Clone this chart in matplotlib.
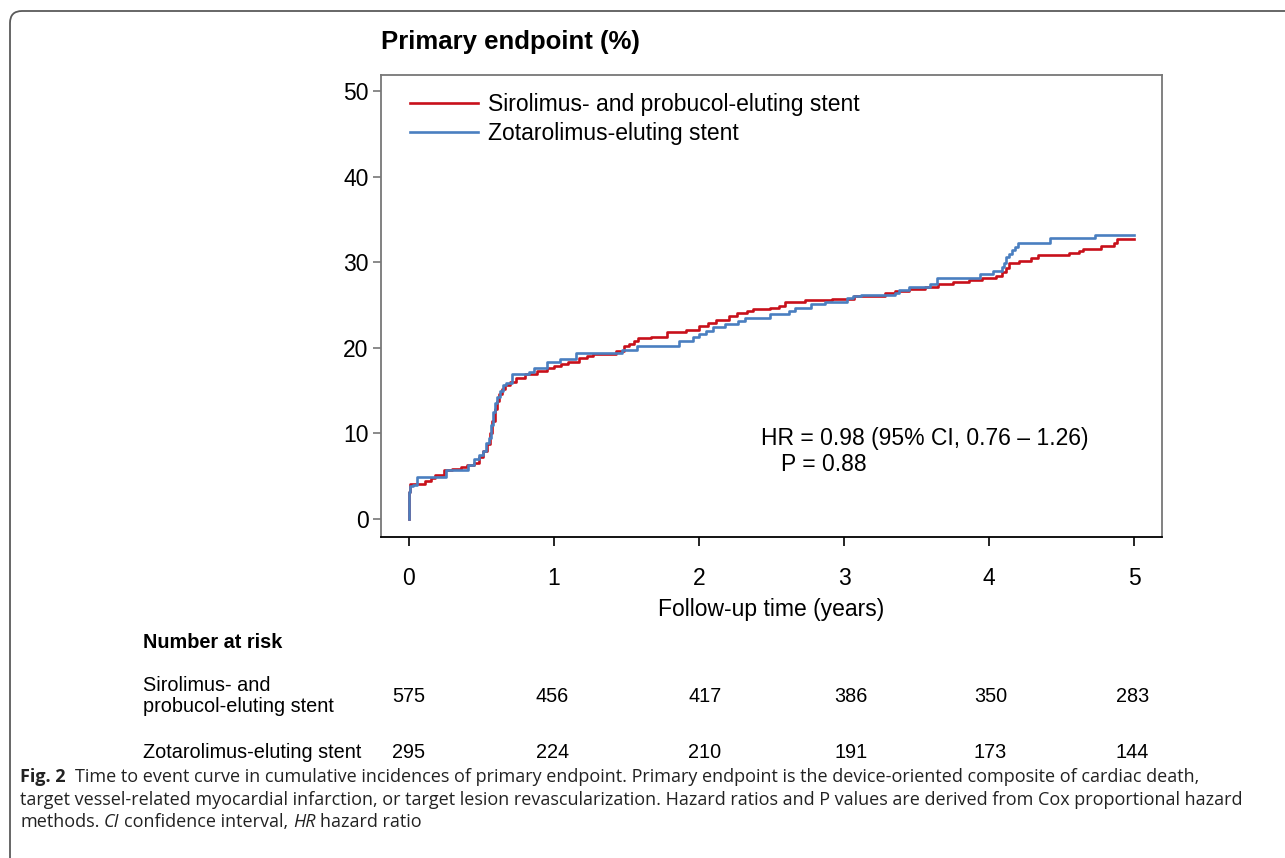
import matplotlib
matplotlib.use('Agg')
import matplotlib.pyplot as plt
from matplotlib.patches import FancyBboxPatch
from matplotlib.transforms import IdentityTransform, blended_transform_factory

plt.rcParams['font.family'] = ['Liberation Sans', 'DejaVu Sans']

W, H = 1285, 858

# cumulative incidence of the primary endpoint (%), step points
t_spes = [0, 0.0, 0.01, 0.11, 0.15, 0.18, 0.24, 0.30, 0.36, 0.40, 0.45, 0.48, 0.51, 0.54,
          0.56, 0.575, 0.59, 0.605, 0.62, 0.64, 0.66, 0.70, 0.74, 0.80, 0.88, 0.95, 1.00,
          1.05, 1.10, 1.17, 1.23, 1.27, 1.43, 1.48, 1.52, 1.55, 1.58, 1.67, 1.78, 1.91,
          2.00, 2.06, 2.12, 2.21, 2.26, 2.33, 2.37, 2.49, 2.55, 2.59, 2.66, 2.73, 2.92,
          3.07, 3.28, 3.35, 3.45, 3.56, 3.65, 3.75, 3.86, 3.95, 4.05, 4.09, 4.12, 4.14,
          4.21, 4.29, 4.34, 4.55, 4.62, 4.65, 4.77, 4.86, 4.88, 5.00]
y_spes = [0, 3.1, 4.1, 4.4, 4.8, 5.1, 5.7, 5.9, 6.1, 6.3, 6.6, 7.2, 7.9, 8.8,
          10.0, 11.5, 12.8, 13.8, 14.6, 15.2, 15.6, 16.0, 16.5, 16.9, 17.3, 17.7, 17.9,
          18.1, 18.4, 18.8, 19.0, 19.3, 19.6, 20.2, 20.5, 20.8, 21.1, 21.3, 21.8, 22.1,
          22.5, 22.9, 23.2, 23.7, 24.1, 24.3, 24.5, 24.6, 24.9, 25.3, 25.4, 25.6, 25.7,
          26.1, 26.4, 26.6, 26.9, 27.1, 27.4, 27.7, 27.9, 28.2, 28.4, 28.8, 29.3, 29.9,
          30.2, 30.5, 30.9, 31.1, 31.3, 31.6, 31.9, 32.2, 32.7, 32.7]

t_zes = [0, 0.0, 0.01, 0.03, 0.053, 0.255, 0.41, 0.45, 0.48, 0.51, 0.53, 0.55, 0.565,
         0.58, 0.595, 0.61, 0.625, 0.645, 0.67, 0.71, 0.83, 0.86, 0.95, 1.04, 1.15, 1.47,
         1.57, 1.86, 1.96, 2.00, 2.05, 2.10, 2.18, 2.27, 2.32, 2.49, 2.62, 2.66, 2.77,
         2.87, 3.02, 3.06, 3.12, 3.35, 3.38, 3.45, 3.59, 3.64, 3.94, 4.03, 4.09, 4.10,
         4.12, 4.14, 4.16, 4.18, 4.20, 4.42, 4.73, 5.00]
y_zes = [0, 3.1, 3.9, 4.0, 4.9, 5.7, 6.3, 7.0, 7.5, 8.0, 8.9, 9.5, 11.0,
         12.5, 13.5, 14.3, 15.0, 15.6, 15.9, 16.9, 17.2, 17.6, 18.3, 18.7, 19.4, 19.7,
         20.2, 20.8, 21.3, 21.6, 22.0, 22.4, 22.8, 23.1, 23.5, 23.9, 24.3, 24.6, 25.1,
         25.4, 25.8, 26.1, 26.2, 26.4, 26.8, 27.1, 27.5, 28.2, 28.6, 29.0, 29.4, 29.9,
         30.6, 31.0, 31.4, 31.8, 32.3, 32.8, 33.2, 33.2]

labels = ['Sirolimus- and probucol-eluting stent', 'Zotarolimus-eluting stent']
risk_labels = ['Sirolimus- and\nprobucol-eluting stent', 'Zotarolimus-eluting stent']
risk_spes = [575, 456, 417, 386, 350, 283]
risk_zes = [295, 224, 210, 191, 173, 144]
risk_x = [0, 0.99, 2.04, 3.05, 4.01, 4.99]

hr_text = 'HR = 0.98 (95% CI, 0.76 \u2013 1.26)'
p_text = 'P = 0.88'

cap1 = 'Time to event curve in cumulative incidences of primary endpoint. Primary endpoint is the device-oriented composite of cardiac death,'
cap2 = 'target vessel-related myocardial infarction, or target lesion revascularization. Hazard ratios and P values are derived from Cox proportional hazard'

RED = '#c8101a'
BLUE = '#4a7fc0'


def fx(x):
    return x / W


def fy(y):
    return 1 - y / H


fig = plt.figure(figsize=(W / 100, H / 100), dpi=100)
ax = fig.add_axes([fx(381), fy(537), (1162 - 381) / W, (537 - 75) / H])

ax.step(t_spes, y_spes, where='post', color=RED, lw=1.9, label=labels[0])
ax.step(t_zes, y_zes, where='post', color=BLUE, lw=1.9, label=labels[1])

ax.set_xlim(-0.193, 5.193)
ax.set_ylim(-2.1, 51.87)
ax.set_xticks(range(6))
ax.set_yticks(range(0, 51, 10))
ax.tick_params(axis='x', labelsize=16.5, length=6.5, width=1.2, pad=15, color='black')
ax.tick_params(axis='y', labelsize=16.5, length=6, width=1.2, pad=3, color='#777777')
for s in ['left', 'top', 'right']:
    ax.spines[s].set_color('#777777')
    ax.spines[s].set_linewidth(1.3)
ax.spines['bottom'].set_color('black')
ax.spines['bottom'].set_linewidth(1.3)
ax.set_xlabel('Follow-up time (years)', fontsize=16.5, labelpad=6)

ax.legend(loc='upper left', bbox_to_anchor=(0.017, 0.996), frameon=False, fontsize=16.5,
          handlelength=2.95, handletextpad=0.45, labelspacing=0.25, borderpad=0.2)

ax.text(0.486, 0.214, hr_text, transform=ax.transAxes, fontsize=16.5, va='center')
ax.text(0.512, 0.158, p_text, transform=ax.transAxes, fontsize=16.5, va='center')

fig.text(fx(381), fy(42), 'Primary endpoint (%)', fontsize=18.5, fontweight='bold', va='center')

# number at risk table
fig.text(fx(143), fy(643), 'Number at risk', fontsize=14.3, fontweight='bold', va='center')
fig.text(fx(143), fy(696), risk_labels[0], fontsize=14.3, va='center', linespacing=1.15)
fig.text(fx(143), fy(752), risk_labels[1], fontsize=14.3, va='center')
tr = blended_transform_factory(ax.transData, fig.transFigure)
for xv, a, b in zip(risk_x, risk_spes, risk_zes):
    fig.text(xv, fy(697), str(a), transform=tr, fontsize=14.3, ha='center', va='center')
    fig.text(xv, fy(752), str(b), transform=tr, fontsize=14.3, ha='center', va='center')

# rounded frame around the figure panel
frame = FancyBboxPatch((10, -12), 1320, 859, boxstyle='round,pad=0,rounding_size=12',
                       transform=IdentityTransform(), fill=False, ec='#5a5a5a', lw=1.3)
fig.add_artist(frame)

# caption, sized to fit the panel width
cap_font = ['Open Sans', 'DejaVu Sans']
cap_col = '#222222'
r = fig.canvas.get_renderer()
probe = fig.text(0, 0, cap2, fontsize=10, family=cap_font)
w10 = probe.get_window_extent(r).width
probe.remove()
cs = 10 * (1247 - 20) / w10


def text_w(s, **kw):
    t = fig.text(0, 0, s, fontsize=cs, family=cap_font, **kw)
    w = t.get_window_extent(r).width
    t.remove()
    return w


sp = text_w('x x') - text_w('xx')


def run(x, y, parts):
    for s, kw, gap in parts:
        t = fig.text(fx(x), fy(y), s, fontsize=cs, family=cap_font, color=cap_col, va='center', **kw)
        x += t.get_window_extent(r).width + gap * sp


run(20, 777, [('Fig. 2', {'fontweight': 'bold'}, 2), (cap1, {}, 0)])
run(20, 800, [(cap2, {}, 0)])
run(20, 822, [('methods.', {}, 1), ('CI', {'style': 'italic'}, 1),
              ('confidence interval,', {}, 1), ('HR', {'style': 'italic'}, 1),
              ('hazard ratio', {}, 0)])

fig.savefig('out.png', dpi=100)
